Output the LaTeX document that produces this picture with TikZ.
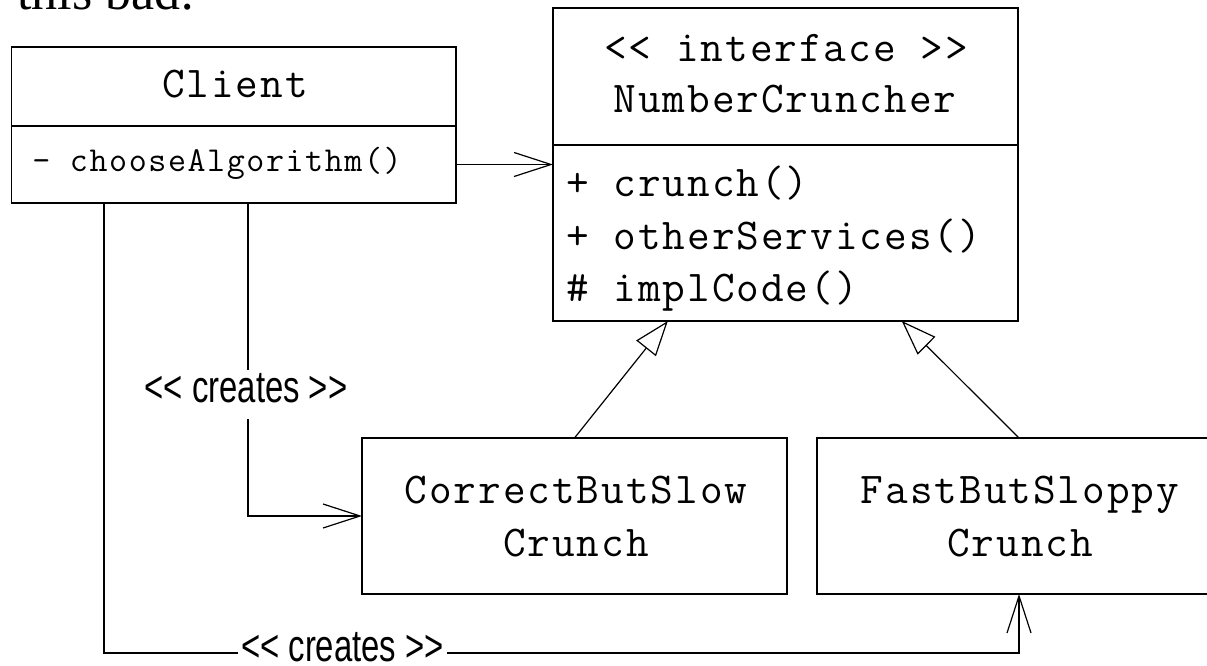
\documentclass[tikz,border=0pt]{standalone}
\usepackage{fontspec}
\usepackage{graphicx}
\setmainfont{Liberation Serif}
\setmonofont{Latin Modern Mono}[LetterSpace=4.5]
\newfontfamily\stereofont{Liberation Sans}
\usetikzlibrary{arrows.meta,calc}

\tikzset{
  classbox/.style={draw, line width=1.2pt, outer sep=0pt, inner sep=0pt},
  name text/.style={inner sep=0pt, anchor=base, font=\ttfamily\fontsize{44}{50}\selectfont},
  member text/.style={inner sep=0pt, anchor=base west, font=\ttfamily\fontsize{44}{50}\selectfont},
  small member/.style={inner sep=0pt, anchor=base, font=\ttfamily\fontsize{35}{40}\selectfont},
  stereo/.style={fill=white, anchor=base, inner xsep=3pt, inner ysep=0pt,
    text height=33pt, text depth=16pt, font=\stereofont\fontsize{45}{50}\selectfont},
  conn/.style={line width=1.2pt},
  usesarrow/.style={conn, -{Straight Barb[length=37pt,width=24pt]}},
  realizes/.style={conn, -{Triangle[open,length=35pt,width=25pt,fill=white]}},
}

\begin{document}
\begin{tikzpicture}[x=1pt, y=-1pt]
\useasboundingbox (0,0) rectangle (1207,666);
\clip (0,0) rectangle (1207,666);

% heading text running off the top edge
\node[inner sep=0pt, anchor=base west, font=\fontsize{52}{60}\selectfont] (heading) at (17,10) {this bad:};

% Client class
\node[classbox, minimum width=444.3pt, minimum height=156pt] (client) at (233.85,125) {};
\draw[conn] (client.west |- 0,126) -- (client.east |- 0,126);
\node[name text] (clientname) at (235,98) {Client};
\node[small member] (choose) at (217,171.5) {- chooseAlgorithm()};

% NumberCruncher interface
\node[classbox, minimum width=465pt, minimum height=313pt] (nc) at (785.5,164.5) {};
\draw[conn] (nc.west |- 0,145) -- (nc.east |- 0,145);
\node[name text] (ncstereo) at (786,62) {<< interface >>};
\node[name text] (ncname) at (785,113) {NumberCruncher};
\node[member text] (crunch) at (566,196.5) {+ crunch()};
\node[member text] (other) at (566,249) {+ otherServices()};
\node[member text] (impl) at (566,301) {\# implCode()};

% implementations
\node[classbox, minimum width=425pt, minimum height=156pt] (cbs) at (574.5,516) {};
\node[name text] (cbs1) at (576,503.5) {CorrectButSlow};
\node[name text] (cbs2) at (576,556.5) {Crunch};

\node[classbox, minimum width=404pt, minimum height=156pt] (fbs) at (1019,516) {};
\node[name text] (fbs1) at (1020,503.5) {FastButSloppy};
\node[name text] (fbs2) at (1020,556.5) {Crunch};

% association
\draw[usesarrow] (client.east |- nc.west) -- (nc.west);

% realization
\draw[realizes] (cbs.north) -- ($(nc.south west)!0.247!(nc.south east)$);
\draw[realizes] (fbs.north) -- ($(nc.south west)!0.75!(nc.south east)$);

% creation dependencies
\coordinate (createsA) at (248,400);
\draw[usesarrow] (createsA |- client.south) |- (cbs.west);
\node[stereo] (labA) at (246,402.7) {\scalebox{0.73}[1]{<< creates >>}};

\coordinate (createsB) at (104,653);
\draw[usesarrow] (createsB |- client.south) -- (createsB) -| (fbs.south);
\node[stereo, text height=31pt, text depth=1pt] (labB) at (342.5,661) {\scalebox{0.73}[1]{<< creates >>}};
\end{tikzpicture}
\end{document}
